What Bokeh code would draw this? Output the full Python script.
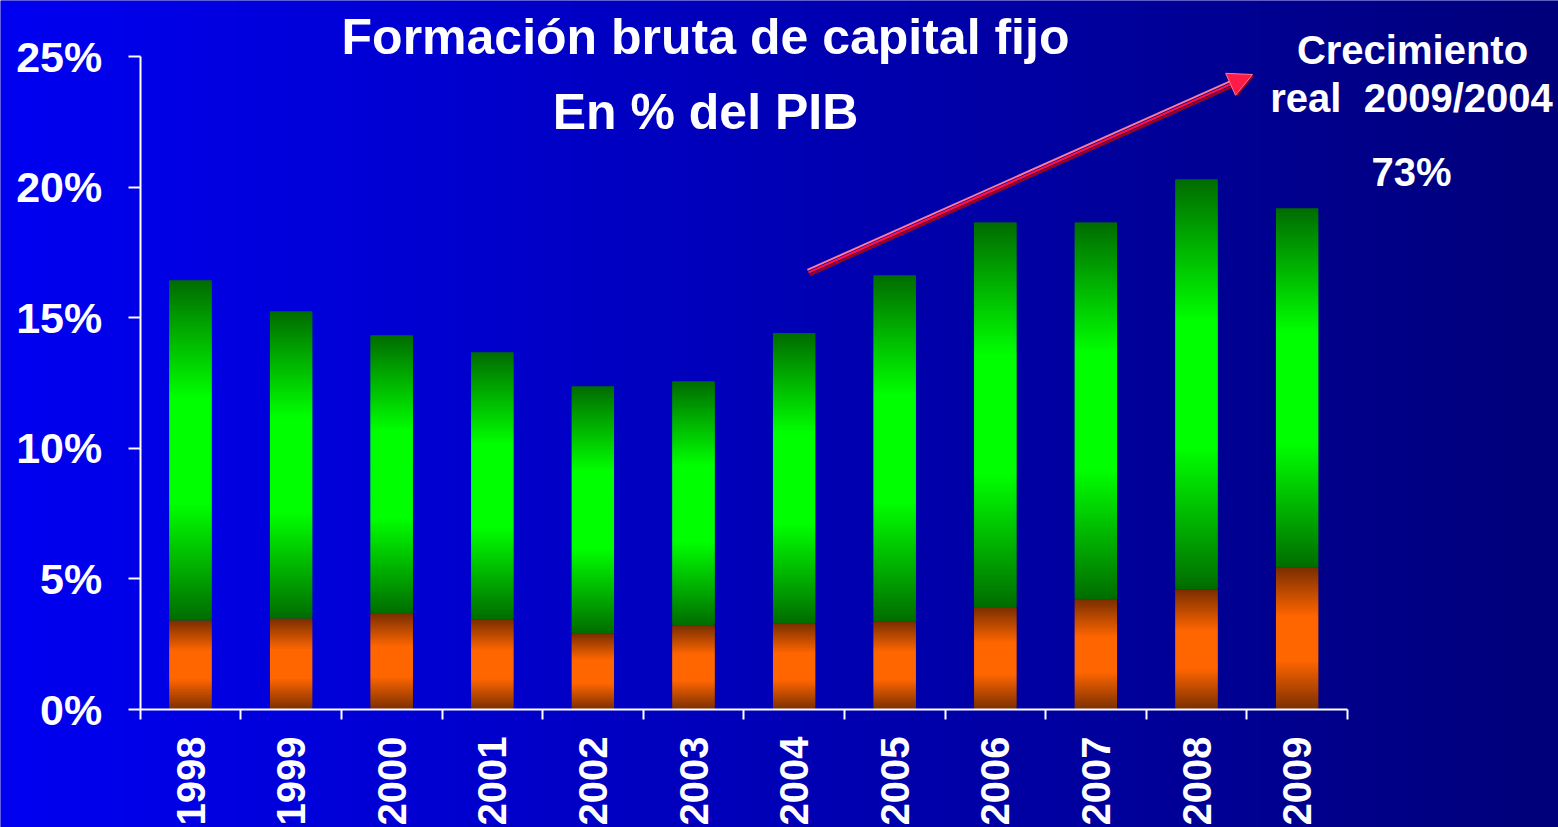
import math
import numpy as np
from bokeh.plotting import figure
from bokeh.models import (Range1d, LinearAxis, FixedTicker, Label, Arrow, NormalHead,
                          ColumnDataSource)
from bokeh.embed import file_html
from bokeh.resources import INLINE

# ---------------- data ----------------
years = ["1998", "1999", "2000", "2001", "2002", "2003",
         "2004", "2005", "2006", "2007", "2008", "2009"]
orange_part = [3.41, 3.48, 3.68, 3.45, 2.91, 3.22, 3.29, 3.37, 3.91, 4.21, 4.59, 5.44]
green_part = [13.01, 11.76, 10.64, 10.22, 9.46, 9.34, 11.11, 13.25, 14.73, 14.43, 15.70, 13.74]
y_ticks = [0, 5, 10, 15, 20, 25]
y_tick_labels = ["0%", "5%", "10%", "15%", "20%", "25%"]

title1 = "Formación bruta de capital fijo"
title2 = "En % del PIB"
note1 = "Crecimiento"
note2 = "real \u00a02009/2004"
note3 = "73%"

# ---------------- geometry / style ----------------
W, H = 1558, 827
PX0, PXU = 190.0, 100.6      # pixel x of category 0, pixels per category
PY0, PYU = 709.0, 26.12      # pixel y of 0 %, pixels per 1 %
BAR_W = 0.42
FONT = "Liberation Sans"

def dx(px):
    return (px - PX0) / PXU

def dy(py):
    return (PY0 - py) / PYU

p = figure(width=W, height=H, output_backend="svg", toolbar_location=None,
           x_axis_type=None, y_axis_type=None,
           x_range=Range1d(dx(0), dx(W)), y_range=Range1d(dy(H), dy(0)),
           min_border=0, min_border_left=0, min_border_right=0,
           min_border_top=0, min_border_bottom=0)
p.outline_line_color = None
p.grid.visible = False
p.background_fill_color = "#0000B4"
p.border_fill_color = "#0000B4"

# background horizontal gradient
ncol = 256
left_c = np.array([0, 0, 242])
right_c = np.array([0, 0, 122])
img = np.zeros((2, ncol), dtype=np.uint32)
view = img.view(dtype=np.uint8).reshape((2, ncol, 4))
for j in range(ncol):
    t = j / (ncol - 1)
    c = left_c + (right_c - left_c) * t
    view[:, j, 0] = int(c[0]); view[:, j, 1] = int(c[1]); view[:, j, 2] = int(c[2]); view[:, j, 3] = 255
p.image_rgba(image=[img], x=dx(0), y=dy(H), dw=dx(W) - dx(0), dh=dy(0) - dy(H), level="image")

# gradient stacked bars (each segment drawn as thin overlapping slices)
def shade(dark, bright, t):
    f = 1 - abs(2 * t - 1)
    w = min(1.0, f * 1.45)
    c = [int(round(d + (b - d) * w)) for d, b in zip(dark, bright)]
    return "#%02x%02x%02x" % tuple(c)

OVER = 2.0 / PYU      # 2 px overlap between slices
L, R, B, T, C = [], [], [], [], []
for i in range(len(years)):
    segs = [(0.0, orange_part[i], (122, 46, 0), (255, 102, 0)),
            (orange_part[i], orange_part[i] + green_part[i], (0, 108, 0), (0, 255, 0))]
    for lo, hi, dark, bright in segs:
        ns = max(8, int((hi - lo) * PYU / 2))
        h = (hi - lo) / ns
        for k in range(ns):
            b0 = lo + k * h
            t0 = min(hi, b0 + h + OVER)
            L.append(i - BAR_W / 2); R.append(i + BAR_W / 2)
            B.append(b0); T.append(t0)
            C.append(shade(dark, bright, (k + 0.5) / ns))
src = ColumnDataSource(dict(left=L, right=R, bottom=B, top=T, color=C))
p.quad(left="left", right="right", bottom="bottom", top="top", fill_color="color",
       line_color=None, source=src)

# axes
yaxis = LinearAxis(fixed_location=-0.5, bounds=(0, 25),
                   ticker=FixedTicker(ticks=y_ticks, minor_ticks=[]),
                   major_label_overrides={t: l for t, l in zip(y_ticks, y_tick_labels)})
yaxis.axis_line_color = "white"; yaxis.axis_line_width = 2
yaxis.major_tick_line_color = "white"; yaxis.major_tick_line_width = 2
yaxis.major_tick_out = 12; yaxis.major_tick_in = 0
yaxis.major_label_standoff = 26
yaxis.major_label_text_color = "white"
yaxis.major_label_text_font = FONT
yaxis.major_label_text_font_style = "bold"
yaxis.major_label_text_font_size = "43px"
p.add_layout(yaxis, "left")

bounds_ticks = [i - 0.5 for i in range(len(years) + 1)]
xaxis = LinearAxis(fixed_location=0, bounds=(-0.5, len(years) - 0.5),
                   ticker=FixedTicker(ticks=bounds_ticks, minor_ticks=[]),
                   major_label_overrides={t: "" for t in bounds_ticks})
xaxis.axis_line_color = "white"; xaxis.axis_line_width = 2
xaxis.major_tick_line_color = "white"; xaxis.major_tick_line_width = 2
xaxis.major_tick_out = 10; xaxis.major_tick_in = 0
p.add_layout(xaxis, "below")

xlab = LinearAxis(fixed_location=0,
                  ticker=FixedTicker(ticks=list(range(len(years))), minor_ticks=[]),
                  major_label_overrides={i: y for i, y in enumerate(years)})
xlab.axis_line_color = None
xlab.major_tick_line_color = None
xlab.major_tick_out = 0; xlab.major_tick_in = 0
xlab.major_label_orientation = math.pi / 2
xlab.major_label_standoff = 27
xlab.major_label_text_color = "white"
xlab.major_label_text_font = FONT
xlab.major_label_text_font_style = "bold"
xlab.major_label_text_font_size = "40px"
p.add_layout(xlab, "below")

# texts (baseline pixel positions; Bokeh draws alphabetic baseline ~0.4em low, compensate)
def add_text(txt, xc, base_px, size_px):
    p.add_layout(Label(x=xc, y=H - base_px + 0.4 * size_px, x_units="screen", y_units="screen",
                       text=txt, text_align="center", text_baseline="alphabetic",
                       text_color="white", text_font=FONT, text_font_style="bold",
                       text_font_size="%dpx" % size_px))

add_text(title1, 705, 56, 50)
add_text(title2, 705, 131, 50)
add_text(note1, 1412, 65, 40)
add_text(note2, 1411, 113, 40)
add_text(note3, 1411, 187, 40)

# arrow (start/end in pixels, converted to data units)
ax0, ay0, ax1, ay1 = 808.0, 272.0, 1252.0, 74.0
vx, vy = ax1 - ax0, ay1 - ay0
ln = (vx ** 2 + vy ** 2) ** 0.5
ux, uy = vx / ln, vy / ln
nx, ny = -uy, ux   # perpendicular pointing down-right in pixel coords
for off, col, lw in [(-2.8, "#ff7a95", 2.0), (2.8, "#a0001e", 2.4), (0.0, "#ff1040", 2.4)]:
    p.add_layout(Arrow(x_start=dx(ax0 + nx * off), y_start=dy(ay0 + ny * off),
                       x_end=dx(ax1 - ux * 16 + nx * off), y_end=dy(ay1 - uy * 16 + ny * off),
                       line_color=col, line_width=lw, end=None))
p.add_layout(Arrow(x_start=dx(ax1 - ux * 24 + 1.5), y_start=dy(ay1 - uy * 24 + 1.5),
                   x_end=dx(ax1 + 1.5), y_end=dy(ay1 + 1.5), line_color=None, line_width=0,
                   end=NormalHead(size=24, fill_color="#a0001e", line_color=None)))
p.add_layout(Arrow(x_start=dx(ax1 - ux * 24), y_start=dy(ay1 - uy * 24),
                   x_end=dx(ax1), y_end=dy(ay1), line_color=None, line_width=0,
                   end=NormalHead(size=24, fill_color="#ff1a48", line_color="#ff7a95", line_width=1)))

open("out.html", "w").write(file_html(p, INLINE))
